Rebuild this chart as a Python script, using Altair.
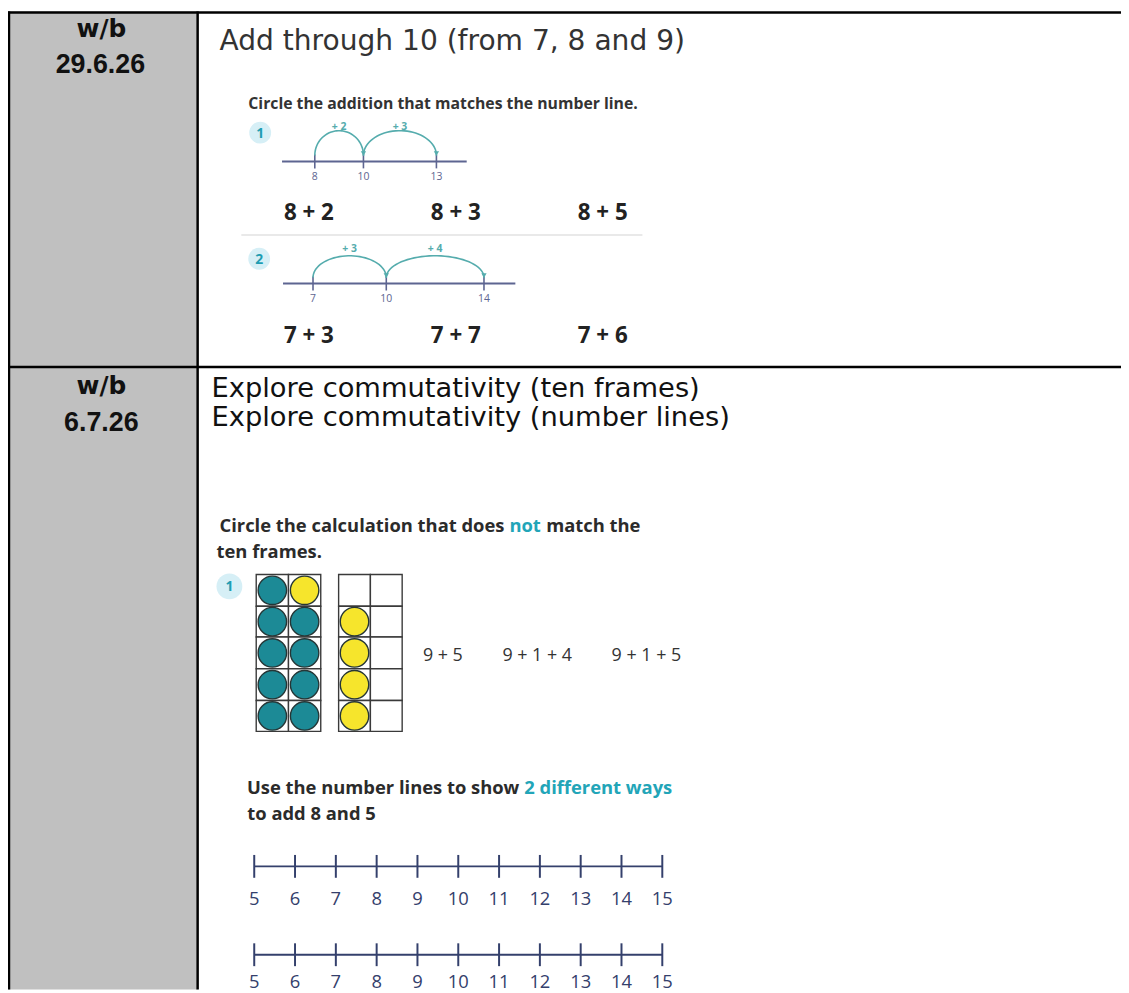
import altair as alt
import pandas as pd
import numpy as np

# ------------------------------------------------------------------ data
week_labels = ["w/b", "29.6.26", "w/b", "6.7.26"]
lesson_titles = ["Add through 10 (from 7, 8 and 9)",
                 "Explore commutativity (ten frames)",
                 "Explore commutativity (number lines)"]
q1_instruction = "Circle the addition that matches the number line."
badge_numbers = ["1", "2", "1"]
nl1_values = [8, 10, 13]
nl1_jumps = ["+ 2", "+ 3"]
nl1_choices = ["8 + 2", "8 + 3", "8 + 5"]
nl2_values = [7, 10, 14]
nl2_jumps = ["+ 3", "+ 4"]
nl2_choices = ["7 + 3", "7 + 7", "7 + 6"]
tf_instruction = ["Circle the calculation that does", "not", "match the", "ten frames."]
# ten frames, row-major: 5 rows x 2 columns
frame_a = ["teal", "yellow", "teal", "teal", "teal", "teal", "teal", "teal", "teal", "teal"]
frame_b = ["", "", "yellow", "", "yellow", "", "yellow", "", "yellow", ""]
tf_calcs = ["9 + 5", "9 + 1 + 4", "9 + 1 + 5"]
nl_instruction = ["Use the number lines to show", "2 different ways", "to add 8 and 5"]
blank_line_values = list(range(5, 16))

# ------------------------------------------------------------------ layout / style
W, H = 1121, 985
X0, Y0 = 8, 8
xs = alt.Scale(domain=[X0, X0 + W], nice=False, zero=False)
ys = alt.Scale(domain=[Y0, Y0 + H], nice=False, zero=False, reverse=True)

TEAL_TXT = "#22a5b8"
ARC = "#55acad"
NL_TOP = "#5d6591"
NL_BOT = "#34406c"
WS_FONT = "Open Sans"
INSTR = 18.5


def enc(df):
    e = dict(x=alt.X("x:Q", scale=xs, axis=None), y=alt.Y("y:Q", scale=ys, axis=None))
    if "x2" in df.columns:
        e["x2"] = alt.X2("x2:Q")
    if "y2" in df.columns:
        e["y2"] = alt.Y2("y2:Q")
    return e


def texts(rows, font, size, weight="normal", color="#000", align="left", baseline="alphabetic"):
    df = pd.DataFrame(rows, columns=["x", "y", "t"])
    return alt.Chart(df).mark_text(font=font, fontSize=size, fontWeight=weight, color=color,
                                   align=align, baseline=baseline).encode(text="t:N", **enc(df))


def rules(rows, color, width):
    df = pd.DataFrame(rows, columns=["x", "y", "x2", "y2"])
    return alt.Chart(df).mark_rule(color=color, strokeWidth=width).encode(**enc(df))


def rects(rows, fill, stroke=None, sw=0):
    df = pd.DataFrame(rows, columns=["x", "y", "x2", "y2"])
    kw = dict(fill=fill)
    if stroke:
        kw.update(stroke=stroke, strokeWidth=sw)
    return alt.Chart(df).mark_rect(**kw).encode(**enc(df))


layers = []

# ---- table
layers.append(rects([(X0, Y0, 199, Y0 + H)], "#c0c0c0"))
layers.append(rules([(X0, 9, X0 + W, 9), (9, Y0, 9, Y0 + H), (199, Y0, 199, Y0 + H),
                     (X0, 366, X0 + W, 366)], "#000000", 2.5))
layers.append(texts([(102, 34, week_labels[0]), (102, 393, week_labels[2])],
                    "DejaVu Sans", 25, "bold", "#111111", "center"))
layers.append(texts([(101, 70, week_labels[1]), (102, 430, week_labels[3])],
                    "Liberation Sans", 27, "bold", "#111111", "center"))
layers.append(texts([(221, 47, lesson_titles[0])], "DejaVu Sans", 28.3, "normal", "#333333"))
layers.append(texts([(213, 396, lesson_titles[1]), (213, 425, lesson_titles[2])],
                    "DejaVu Sans", 27.5, "normal", "#111111"))

# ---- badges
badge_df = pd.DataFrame({"x": [262, 261, 231], "y": [130, 257, 587],
                         "s": [484, 484, 676], "t": badge_numbers})
layers.append(alt.Chart(badge_df).mark_point(filled=True, shape="circle", color="#d6eff6", opacity=1)
              .encode(size=alt.Size("s:Q", scale=None, legend=None), **enc(badge_df)))
layers.append(alt.Chart(badge_df).mark_text(font=WS_FONT, fontSize=14, fontWeight="bold",
                                            color="#1f9db2", baseline="middle", dy=1)
              .encode(text="t:N", **enc(badge_df)))

# ---- question 1 text
layers.append(texts([(250, 106, q1_instruction)], WS_FONT, 15.9, "bold", "#333333"))


def number_line(values, jumps, choices, x10, unit, line_y, x_from, x_to, arc_base, arc_top,
                label_y, jump_y, choice_y):
    px = [x10 + (v - 10) * unit for v in values]
    out = [rules([(x_from, line_y, x_to, line_y)], NL_TOP, 2),
           rules([(p, line_y - 7, p, line_y + 7) for p in px], NL_TOP, 1.6),
           texts([(p, label_y, str(v)) for p, v in zip(px, values)], WS_FONT, 10.5, "normal",
                 NL_TOP, "center", "middle")]
    pts = []
    for i in range(len(px) - 1):
        a, b = px[i], px[i + 1]
        cx, rx, ry = (a + b) / 2, (b - a) / 2, arc_base - arc_top
        for k, t in enumerate(np.linspace(np.pi, 0, 40)):
            pts.append({"x": cx + rx * np.cos(t), "y": arc_base - ry * np.sin(t), "arc": i, "o": k})
    adf = pd.DataFrame(pts)
    out.append(alt.Chart(adf).mark_line(color=ARC, strokeWidth=1.6)
               .encode(detail="arc:N", order="o:Q", **enc(adf)))
    hdf = pd.DataFrame({"x": px[1:], "y": [arc_base - 2] * (len(px) - 1)})
    out.append(alt.Chart(hdf).mark_point(shape="triangle-down", filled=True, color=ARC, size=28,
                                         opacity=1).encode(**enc(hdf)))
    out.append(texts([((px[i] + px[i + 1]) / 2, jump_y, j) for i, j in enumerate(jumps)],
                     WS_FONT, 10.5, "bold", ARC, "center", "middle"))
    out.append(texts([(cx, choice_y, c) for cx, c in zip([311, 459, 607], choices)],
                     WS_FONT, 22.5, "bold", "#222222", "center", "middle"))
    return out


layers += number_line(nl1_values, nl1_jumps, nl1_choices, 366, 24.5, 159, 284, 470, 153, 128,
                      175, 124, 211)
layers.append(rules([(243, 233, 647, 233)], "#e2e2e2", 1.5))
layers += number_line(nl2_values, nl2_jumps, nl2_choices, 389, 24.6, 282, 285, 519, 276, 254,
                      298, 247, 335)

# ---- ten frames section
layers.append(texts([(508, 532, tf_instruction[0])], WS_FONT, INSTR, "bold", "#2b2b2b", "right"))
layers.append(texts([(550, 532, tf_instruction[2]), (218, 558, tf_instruction[3])], WS_FONT, INSTR,
                    "bold", "#2b2b2b"))
layers.append(texts([(513, 532, tf_instruction[1])], WS_FONT, INSTR, "bold", TEAL_TXT))

row_edges = [575, 607, 638, 670, 702, 733]
frames = [(258, 32.5, frame_a), (341, 32, frame_b)]
cells, counters = [], []
for fx, cw, fill in frames:
    for idx, c in enumerate(fill):
        r, col = divmod(idx, 2)
        x1 = fx + col * cw
        cells.append((x1, row_edges[r], x1 + cw, row_edges[r + 1]))
        if c:
            counters.append({"x": x1 + cw / 2, "y": (row_edges[r] + row_edges[r + 1]) / 2, "c": c})
layers.append(rects(cells, "#ffffff", "#3a3a3a", 1.4))
cdf = pd.DataFrame(counters)
layers.append(alt.Chart(cdf).mark_point(shape="circle", filled=True, size=820, opacity=1,
                                        stroke="#263636", strokeWidth=1.4)
              .encode(color=alt.Color("c:N", scale=alt.Scale(domain=["teal", "yellow"],
                                                             range=["#1c8a96", "#f6e52c"]),
                                      legend=None), **enc(cdf)))
layers.append(texts([(cx, 657, c) for cx, c in zip([446, 541, 651], tf_calcs)], WS_FONT, 18,
                    "normal", "#333333", "center", "middle"))

# ---- blank number lines section
layers.append(texts([(523, 796, nl_instruction[0])], WS_FONT, INSTR, "bold", "#2b2b2b", "right"))
layers.append(texts([(249, 822, nl_instruction[2])], WS_FONT, INSTR, "bold", "#2b2b2b"))
layers.append(texts([(528, 796, nl_instruction[1])], WS_FONT, INSTR, "bold", TEAL_TXT))
for ly, lab_y in [(869, 902), (958, 986)]:
    px = [256 + (v - 5) * 41.1 for v in blank_line_values]
    layers.append(rules([(px[0], ly, px[-1], ly)], NL_BOT, 2))
    layers.append(rules([(p, ly - 11.5, p, ly + 11.5) for p in px], NL_BOT, 2))
    layers.append(texts([(p, lab_y, str(v)) for p, v in zip(px, blank_line_values)], WS_FONT, 18.5,
                        "normal", NL_BOT, "center", "middle"))

chart = alt.layer(*layers).properties(
    width=W, height=H, padding=0, autosize=alt.AutoSizeParams(type="none"), background="white"
).configure_view(stroke=None)

chart.save("out.html", embed_options={"renderer": "svg", "actions": False})
